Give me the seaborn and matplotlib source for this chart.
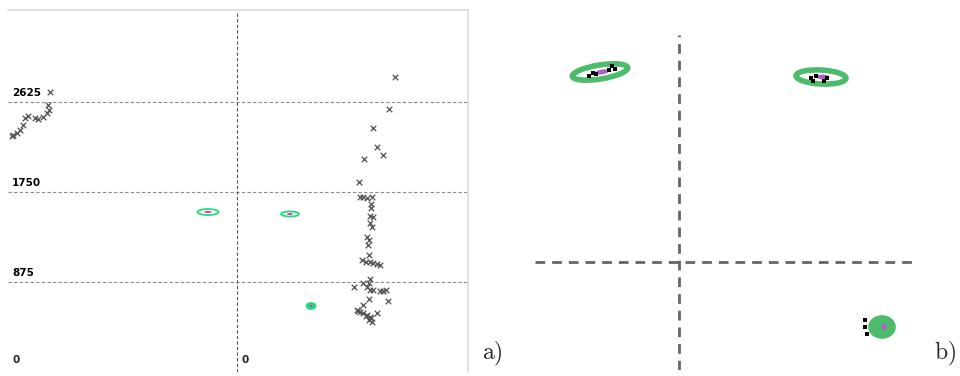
"""
a) tracked points with fitted ellipses, b) close-up of the ellipses
"""
import matplotlib
matplotlib.use("Agg")
import matplotlib.pyplot as plt
import seaborn as sns
import pandas as pd
from matplotlib.patches import Ellipse

# ---- panel a data (x in screen units, y in value units) ----
y_ticks = [875, 1750, 2625]
split_x = 237

left_x = [50, 48, 49, 47, 43, 38, 35, 28, 25, 23, 20, 17, 13, 12]
left_y = [2720, 2593, 2545, 2515, 2477, 2458, 2470, 2487, 2467, 2400, 2350, 2322, 2302, 2290]

right_x = [395, 389, 373, 377, 383, 364, 359, 360, 363, 367, 372, 371, 371, 370, 373,
           370, 372, 367, 369, 368, 369, 362, 366, 370, 373, 377, 380, 370, 369, 354,
           363, 367, 370, 373, 380, 383, 388, 369, 363, 357, 360, 363, 367, 370, 369,
           372, 377, 386, 358, 371, 366]
right_y = [2868, 2557, 2372, 2188, 2110, 2071, 1848, 1701, 1701, 1691, 1701, 1633, 1594,
           1516, 1506, 1448, 1410, 1312, 1283, 1235, 1137, 1088, 1069, 1069, 1060, 1050,
           1040, 904, 865, 826, 865, 826, 797, 797, 788, 788, 690, 710, 651, 603, 583,
           573, 554, 535, 505, 486, 573, 796, 593, 525, 545]

ell_a_x = [208, 290, 311]
ell_a_y = [1555, 1536, 642]
ell_a_w = [21, 18, 9]
ell_a_h = [6, 5, 6]
ell_a_fill = [False, False, True]

# ---- panel b data (relative to crosshair) ----
ell_b_x = [-79, 142, 203]
ell_b_y = [190, 185, -65]
ell_b_w = [56, 50, 22]
ell_b_h = [14, 14, 18]
ell_b_ang = [9, -3, 0]
ell_b_fill = [False, False, True]
dots_b_x = [-90, -86, -83, -70, -67, -64, 132, 134, 137, 145, 148, 186, 186, 188]
dots_b_y = [186, 189, 188, 192, 196, 193, 184, 181, 186, 181, 184, -58, -65, -72]

PX = 875 / 90  # value units per screen pixel in panel a

sns.set_style("white")
plt.rcParams["mathtext.fontset"] = "cm"

fig = plt.figure(figsize=(9.6, 3.76), dpi=100)
W, H = 960, 376

# ---------- panel a ----------
ax = fig.add_axes([8 / W, 4 / H, 460 / W, 362 / H])
ax.set_xlim(8, 468)
ax.set_ylim(0, (372 - 10) * PX)

for v in y_ticks:
    ax.axhline(v, color="#8a8a8a", lw=0.8, dashes=(3, 2))
    ax.text(12, v + 4 * PX, str(v), fontsize=7.5, fontweight="bold",
            va="bottom", ha="left", color="black")
ax.axvline(split_x, color="#555555", lw=0.8, dashes=(3, 2), ymax=0.995)
ax.text(12, 12 * PX, "0", fontsize=7.5, fontweight="bold", va="center", ha="left")
ax.text(split_x + 4, 12 * PX, "0", fontsize=7.5, fontweight="bold", va="center", ha="left")

pts = pd.DataFrame({"x": left_x + right_x, "y": left_y + right_y})
sns.scatterplot(data=pts, x="x", y="y", marker="x", s=16, linewidth=0.9,
                color="#505050", ax=ax)

for cx, cy, w, h, f in zip(ell_a_x, ell_a_y, ell_a_w, ell_a_h, ell_a_fill):
    ax.add_patch(Ellipse((cx, cy), w, h * PX, fill=f, facecolor="#22dd77",
                         edgecolor="#22dd77", lw=1.3))
    ax.add_patch(Ellipse((cx, cy), w * 0.35, h * 0.4 * PX, color="#d040d0", lw=0))

ax.set_xticks([])
ax.set_yticks([])
ax.set_xlabel("")
ax.set_ylabel("")
for side in ["left", "bottom"]:
    ax.spines[side].set_visible(False)
for side in ["top", "right"]:
    ax.spines[side].set_color("#dcdcdc")
    ax.spines[side].set_linewidth(1.2)

# ---------- panel b ----------
bx = fig.add_axes([535 / W, 6 / H, 383 / W, 335 / H])
bx.set_xlim(-144, 239)
bx.set_ylim(-108, 227)
bx.axhline(0, color="#666666", lw=2, dashes=(3.5, 2.5))
bx.axvline(0, color="#666666", lw=2, dashes=(3.5, 2.5))

for cx, cy, w, h, a, f in zip(ell_b_x, ell_b_y, ell_b_w, ell_b_h, ell_b_ang, ell_b_fill):
    bx.add_patch(Ellipse((cx, cy), w, h, angle=a, fill=f, facecolor="#4cbb6c",
                         edgecolor="#4cbb6c", lw=4))
    bx.add_patch(Ellipse((cx + 2, cy), w * 0.25, h * 0.35, angle=a,
                         color="#b060c0", lw=0))

sns.scatterplot(x=dots_b_x, y=dots_b_y, marker="s", s=5, color="black",
                linewidth=0, ax=bx)
bx.set_axis_off()

fig.text(482 / W, 8 / H, r"$\mathrm{a)}$", fontsize=17, ha="left", va="bottom")
fig.text(934 / W, 8 / H, r"$\mathrm{b)}$", fontsize=17, ha="left", va="bottom")

fig.savefig("out.png", dpi=100)
